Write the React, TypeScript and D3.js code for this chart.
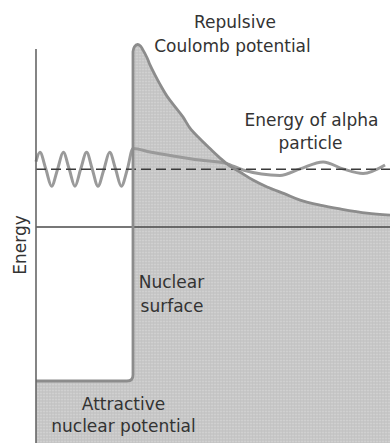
import React from 'react';
import * as d3 from 'd3';

const W = 390;
const H = 443;

// Model quantities (r in arbitrary distance units, V/E in arbitrary energy units)
const nuclearRadius = 2.74;
const wellDepth = -40;
const alphaEnergy = 15;
const rMax = 10;

// Repulsive Coulomb barrier
const coulombR = [2.74, 2.78, 2.87, 2.95, 3.02, 3.14, 3.22, 3.36, 3.5, 3.7, 3.93, 4.15, 4.35, 4.63, 4.92, 5.2, 5.48, 5.76, 6.13, 6.53, 7.03, 7.46, 8.02, 8.59, 9.35, 10];
const coulombV = [45.5, 46.8, 47.4, 47.0, 46.0, 43.9, 42.1, 39.5, 37.1, 34.0, 31.2, 28.6, 25.7, 22.9, 20.3, 17.9, 15.8, 14.3, 12.2, 10.4, 8.6, 7.0, 5.7, 4.7, 3.6, 3.1];

// Alpha-particle wave
const waveR = [0.0, 0.11, 0.28, 0.44, 0.61, 0.77, 0.94, 1.1, 1.26, 1.43, 1.59, 1.75, 1.92, 2.08, 2.25, 2.41, 2.58, 2.74, 3.22, 3.92, 4.63, 5.34, 5.85, 6.89, 7.46, 8.11, 8.67, 9.24, 9.86];
const waveV = [17.0, 19.4, 15.0, 10.6, 15.0, 19.4, 15.0, 10.6, 15.0, 19.4, 15.0, 10.6, 15.0, 19.4, 15.0, 10.6, 15.0, 20.4, 19.5, 18.4, 17.4, 16.6, 14.8, 13.4, 15.1, 16.9, 15.1, 13.9, 16.1];

const labels = {
  barrier: ['Repulsive', 'Coulomb potential'],
  alpha: ['Energy of alpha', 'particle'],
  surface: ['Nuclear', 'surface'],
  well: ['Attractive', 'nuclear potential'],
  axis: 'Energy',
};

export default function App() {
  const x = d3.scaleLinear().domain([0, rMax]).range([36, 390]);
  const y = d3.scaleLinear().domain([-40, 50]).range([381, 34.5]);

  const coulombPts: [number, number][] = coulombR.map((r, i) => [r, coulombV[i]]);
  const wavePts: [number, number][] = waveR.map((r, i) => [r, waveV[i]]);

  const lineC = d3
    .line<[number, number]>()
    .x((d) => x(d[0]))
    .y((d) => y(d[1]))
    .curve(d3.curveCatmullRom.alpha(0.5));
  const lineW = d3
    .line<[number, number]>()
    .x((d) => x(d[0]))
    .y((d) => y(d[1]))
    .curve(d3.curveMonotoneX);

  const corner = 6;
  const cPath = lineC(coulombPts) || '';
  const outline =
    `M${x(0)},${y(wellDepth)} H${x(nuclearRadius) - corner} ` +
    `Q${x(nuclearRadius)},${y(wellDepth)} ${x(nuclearRadius)},${y(wellDepth) - corner} L` +
    cPath.slice(1);
  const fillPath = outline + ` L${x(rMax)},${H + 2} L${x(0)},${H + 2} Z`;

  const font = "'DejaVu Sans', sans-serif";
  const tc = '#333';

  return (
    <svg
      width={W}
      height={H}
      style={{ position: 'fixed', left: 0, top: 0, background: '#fff' }}
    >
      <defs>
        <pattern id="tex" width="3" height="3" patternUnits="userSpaceOnUse">
          <rect width="3" height="3" fill="#c7c7c7" />
          <rect width="3" height="1" fill="#d0d0d0" />
          <rect width="1" height="3" fill="#bfbfbf" opacity="0.6" />
        </pattern>
      </defs>
      <rect width={W} height={H} fill="#fff" />
      <path d={fillPath} fill="url(#tex)" />
      {/* zero energy line */}
      <line x1={x(0)} x2={x(rMax)} y1={y(0)} y2={y(0)} stroke="#4a4a4a" strokeWidth={1.6} />
      {/* wave */}
      <path d={lineW(wavePts) || ''} fill="none" stroke="#9a9a9a" strokeWidth={3} />
      {/* alpha energy dashed */}
      <line
        x1={x(0)}
        x2={x(rMax)}
        y1={y(alphaEnergy)}
        y2={y(alphaEnergy)}
        stroke="#3a3a3a"
        strokeWidth={1.6}
        strokeDasharray="10,5"
      />
      {/* potential outline */}
      <path d={outline} fill="none" stroke="#8c8c8c" strokeWidth={2.8} strokeLinejoin="round" />
      {/* axis */}
      <line x1={x(0)} x2={x(0)} y1={49} y2={H} stroke="#666" strokeWidth={1.6} />

      <g fontFamily={font} fontSize={17} fill={tc}>
        <text x={235} y={28} textAnchor="middle">{labels.barrier[0]}</text>
        <text x={232.5} y={52} textAnchor="middle">{labels.barrier[1]}</text>
        <text x={311.5} y={126} textAnchor="middle">{labels.alpha[0]}</text>
        <text x={310.5} y={149} textAnchor="middle">{labels.alpha[1]}</text>
        <text x={171.5} y={288} textAnchor="middle">{labels.surface[0]}</text>
        <text x={172} y={312} textAnchor="middle">{labels.surface[1]}</text>
        <text x={123.5} y={410} textAnchor="middle">{labels.well[0]}</text>
        <text x={123.5} y={432} textAnchor="middle">{labels.well[1]}</text>
        <text transform="translate(25.5,245) rotate(-90)" textAnchor="middle">{labels.axis}</text>
      </g>
    </svg>
  );
}
